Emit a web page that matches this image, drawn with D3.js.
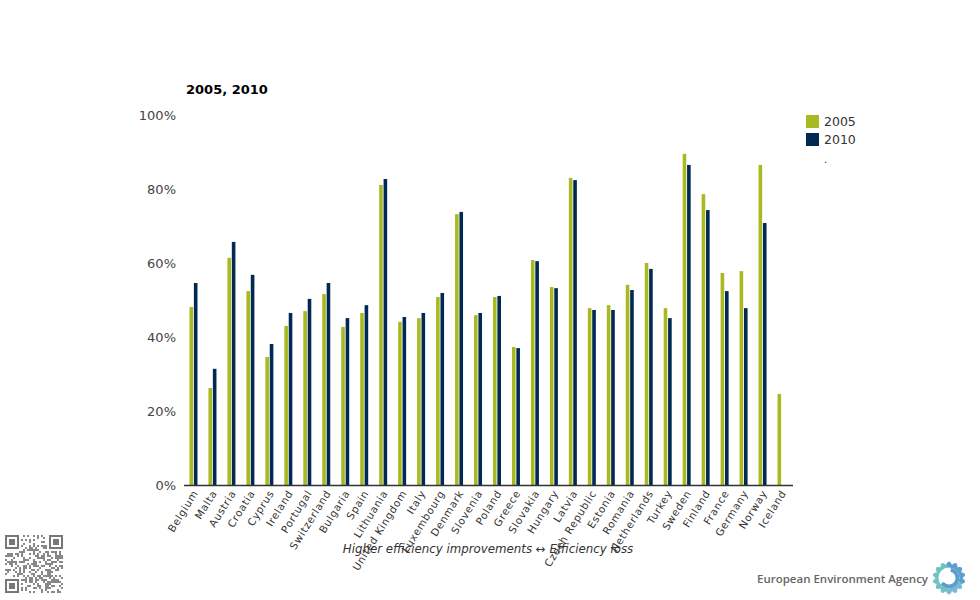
<!DOCTYPE html>
<html><head><meta charset="utf-8">
<script src="https://cdn.jsdelivr.net/npm/d3@7"></script>
<style>
body{margin:0;background:#fff;}
svg{display:block;font-family:"DejaVu Sans",Verdana,sans-serif;}
</style></head>
<body>
<svg id="chart" width="980" height="600"></svg>
<script>
const countries = ["Belgium","Malta","Austria","Croatia","Cyprus","Ireland","Portugal","Switzerland","Bulgaria","Spain","Lithuania","United Kingdom","Italy","Luxembourg","Denmark","Slovenia","Poland","Greece","Slovakia","Hungary","Latvia","Czech Republic","Estonia","Romania","Netherlands","Turkey","Sweden","Finland","France","Germany","Norway","Iceland"];
const series = ["2005","2010"];
const values2005 = [48.1,26.2,61.4,52.4,34.6,43.0,47.0,51.6,42.7,46.5,81.1,44.1,45.1,50.8,73.2,45.9,50.8,37.3,60.8,53.5,83.0,47.8,48.6,54.1,60.0,47.8,89.5,78.6,57.3,57.8,86.5,24.6];
const values2010 = [54.6,31.4,65.7,56.8,38.1,46.5,50.3,54.6,45.1,48.6,82.7,45.4,46.5,51.9,73.8,46.5,51.1,37.0,60.5,53.2,82.4,47.3,47.3,52.7,58.4,45.1,86.5,74.3,52.4,47.8,70.8,null];
const yTicks = [0,20,40,60,80,100];
const colors = ["#a9b921","#002a54"];

const svg = d3.select("#chart");
const x = d3.scaleBand().domain(countries).range([184,791]);
const y = d3.scaleLinear().domain([0,100]).range([485,115]);
const barW = 3.6, gap = 0.8;

svg.append("text").attr("x",186).attr("y",94).attr("font-size",13).attr("font-weight","bold").attr("fill","#000").text("2005, 2010");

// y ticks
svg.append("g").selectAll("text").data(yTicks).join("text")
  .attr("x",176).attr("y",d=>y(d)).attr("dy","0.35em").attr("text-anchor","end")
  .attr("font-size",13).attr("fill","#444").text(d=>d+"%");

// bars
const data = [values2005, values2010];
data.forEach((vals,si)=>{
  svg.append("g").selectAll("rect").data(countries.map((c,i)=>({c,v:vals[i]})).filter(d=>d.v!=null)).join("rect")
    .attr("x",d=>x(d.c)+x.bandwidth()/2 - barW - gap/2 + si*(barW+gap))
    .attr("y",d=>y(d.v)).attr("width",barW).attr("height",d=>y(0)-y(d.v))
    .attr("fill",colors[si]);
});

// x axis
const xAxis = d3.axisBottom(x).tickSize(0).tickPadding(0);
const gx = svg.append("g").attr("transform","translate(0,485)").call(xAxis);
gx.select(".domain").attr("stroke","#333").attr("stroke-width",1.5).attr("d","M184,0.5H793");
gx.selectAll("text").attr("font-size",10.3).attr("fill","#333").attr("font-family","DejaVu Sans, Verdana, sans-serif")
  .attr("letter-spacing","0.7px")
  .attr("text-anchor","end").attr("dy",0).attr("y",0)
  .attr("transform","translate(5,8) rotate(-58)");

// axis caption
svg.append("text").attr("x",488).attr("y",553).attr("text-anchor","middle").attr("font-size",11.8)
  .attr("font-style","italic").attr("fill","#333").text("Higher efficiency improvements \u2194 Efficiency loss");

// legend
const lg = svg.append("g").attr("transform","translate(806,115)");
series.forEach((s,i)=>{
  lg.append("rect").attr("x",0).attr("y",i*18).attr("width",13).attr("height",13).attr("fill",colors[i]);
  lg.append("text").attr("x",18).attr("y",i*18+6.5).attr("dy","0.35em").attr("font-size",12.5).attr("fill","#333").text(s);
});
lg.append("text").attr("x",18).attr("y",44).attr("dy","0.35em").attr("font-size",10).attr("fill","#333").text(".");

// EEA logo
svg.append("text").attr("x",757).attr("y",583).attr("font-family","Open Sans, Lato, sans-serif").attr("font-size",11.5).attr("font-weight","600").attr("fill","#666").text("European Environment Agency");
const flower = svg.append("g").attr("transform","translate(949,578)");
const petalN = 14;
for(let i=0;i<petalN;i++){
  const a = i*360/petalN;
  const c = (a>180 && a<350) ? "#6fc3c0" : (a<110 ? "#5b9fd0" : "#7ab8d6");
  flower.append("path").attr("d","M-4.2,-10 Q0,-23 4.2,-10 Z").attr("fill",c).attr("transform",`rotate(${a})`);
}
flower.append("circle").attr("r",10.5).attr("fill","#fff");
flower.append("path").attr("d",d3.arc()({innerRadius:6.5,outerRadius:10.5,startAngle:0.2,endAngle:Math.PI*1.3})).attr("fill","#5b9fd0");

// QR-like code
const qr = svg.append("g").attr("transform","translate(5,535)");
const n = 29, cs = 2;
function finder(gx,gy){
  qr.append("rect").attr("x",gx*cs).attr("y",gy*cs).attr("width",7*cs).attr("height",7*cs).attr("fill","#777");
  qr.append("rect").attr("x",(gx+1)*cs).attr("y",(gy+1)*cs).attr("width",5*cs).attr("height",5*cs).attr("fill","#fff");
  qr.append("rect").attr("x",(gx+2)*cs).attr("y",(gy+2)*cs).attr("width",3*cs).attr("height",3*cs).attr("fill","#777");
}
const cells=[];
for(let r=0;r<n;r++)for(let c=0;c<n;c++){
  const inF = (r<8&&c<8)||(r<8&&c>=n-8)||(r>=n-8&&c<8);
  if(inF) continue;
  const h = ((r*73856093) ^ (c*19349663) ^ (r*c*83492791)) >>> 0;
  if(h % 7 < 3) cells.push([r,c]);
}
qr.selectAll("rect.m").data(cells).join("rect").attr("class","m")
  .attr("x",d=>d[1]*cs).attr("y",d=>d[0]*cs).attr("width",cs).attr("height",cs).attr("fill","#888");
finder(0,0); finder(n-7,0); finder(0,n-7);
</script>
</body></html>
